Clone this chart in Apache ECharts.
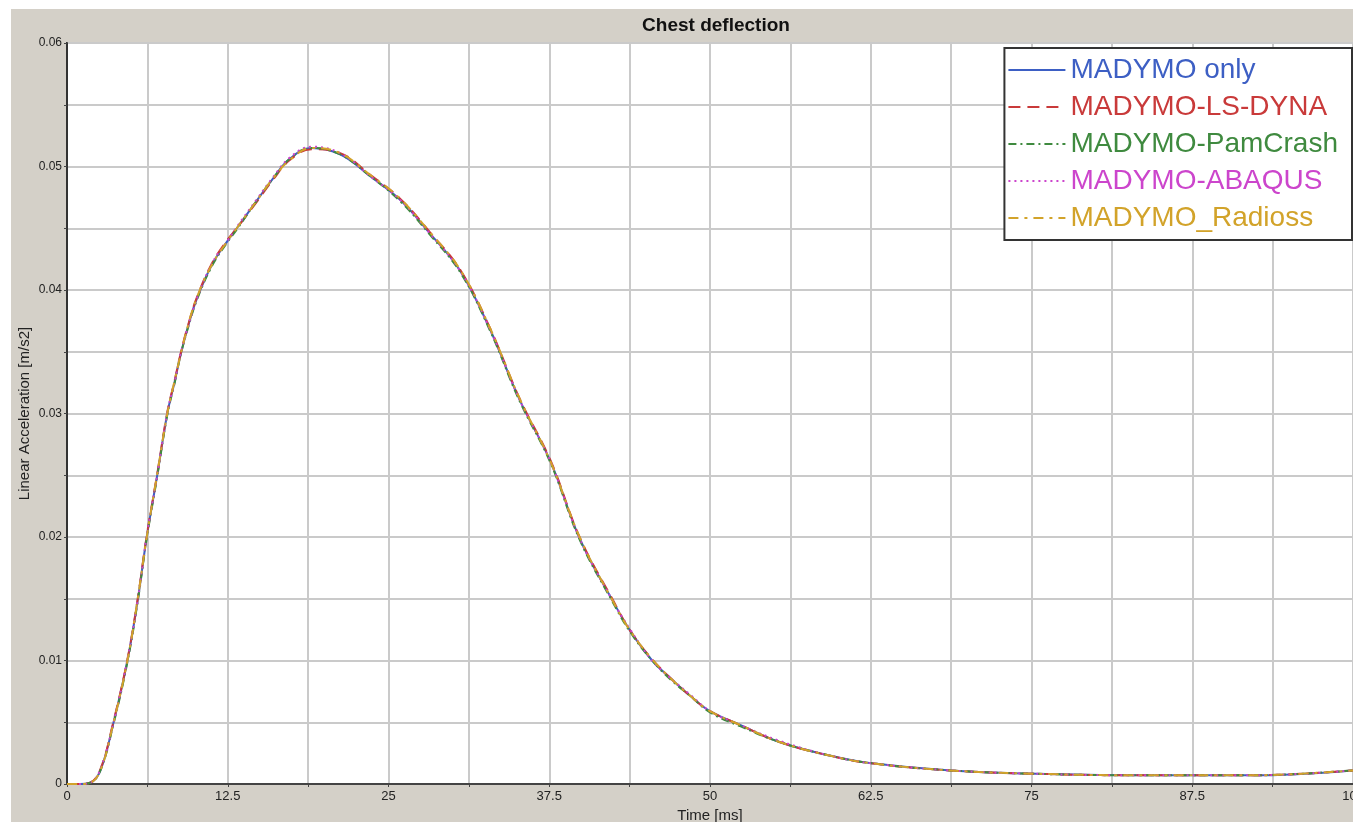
<!DOCTYPE html>
<html>
<head>
<meta charset="utf-8">
<title>Chest deflection</title>
<script src="https://cdn.jsdelivr.net/npm/echarts@6/dist/echarts.min.js"></script>
<style>
 html, body { margin: 0; padding: 0; background: #fff; overflow: hidden; }
 #chart { position: absolute; left: 11px; top: 9px; width: 1342px; height: 813px; background: #d4d0c8; }
</style>
</head>
<body>
<div id="chart"></div>
<script>
// time [ms]
const time = [0, 1, 1.8, 2.6, 3.6, 4.7, 5.5, 6.2, 7.0, 7.8, 8.4, 8.8, 9.4, 10.1, 11.3, 12.5, 13.2, 14.8, 16.0, 17.3, 19.0, 21.2, 23.6, 25.9, 28.2, 30.6, 32.9, 35.2, 37.6, 39.9, 42.4, 43.8, 45.5, 47.0, 48.5, 50.0, 52.3, 55.4, 59.3, 62.4, 68.7, 76.4, 84.2, 92.0, 100];

// deflection per coupling
const madymoOnly = [0, 0, 0.0001, 0.0011, 0.0049, 0.0100, 0.0149, 0.0200, 0.0249, 0.0300, 0.0327, 0.0346, 0.0370, 0.0393, 0.0421, 0.0440, 0.0450, 0.0473, 0.0490, 0.0506, 0.0515, 0.0510, 0.0492, 0.0473, 0.0446, 0.0415, 0.0368, 0.0311, 0.0261, 0.0198, 0.0149, 0.0124, 0.0100, 0.0085, 0.0071, 0.0059, 0.0048, 0.0034, 0.0023, 0.0017, 0.0011, 0.0008, 0.0007, 0.0007, 0.0011];
const lsDyna =     [0, 0, 0.0001, 0.0012, 0.0050, 0.0101, 0.0150, 0.0201, 0.0250, 0.0301, 0.0328, 0.0347, 0.0371, 0.0394, 0.0422, 0.0441, 0.0450, 0.0472, 0.0489, 0.0505, 0.0514, 0.0511, 0.0493, 0.0474, 0.0447, 0.0416, 0.0369, 0.0312, 0.0262, 0.0199, 0.0150, 0.0124, 0.0101, 0.0085, 0.0071, 0.0059, 0.0048, 0.0034, 0.0023, 0.0017, 0.0011, 0.0008, 0.0007, 0.0007, 0.0011];
const pamCrash =   [0, 0, 0.0001, 0.0011, 0.0048, 0.0099, 0.0148, 0.0199, 0.0248, 0.0299, 0.0326, 0.0346, 0.0369, 0.0392, 0.0420, 0.0439, 0.0449, 0.0473, 0.0490, 0.0506, 0.0515, 0.0510, 0.0492, 0.0472, 0.0445, 0.0414, 0.0367, 0.0310, 0.0260, 0.0197, 0.0148, 0.0123, 0.0100, 0.0084, 0.0071, 0.0058, 0.0047, 0.0034, 0.0023, 0.0017, 0.0011, 0.0008, 0.0007, 0.0007, 0.0011];
const abaqus =     [0, 0, 0.0001, 0.0012, 0.0049, 0.0101, 0.0149, 0.0201, 0.0249, 0.0301, 0.0327, 0.0347, 0.0370, 0.0393, 0.0422, 0.0440, 0.0451, 0.0474, 0.0491, 0.0507, 0.0516, 0.0511, 0.0492, 0.0473, 0.0446, 0.0415, 0.0368, 0.0311, 0.0261, 0.0198, 0.0149, 0.0125, 0.0100, 0.0085, 0.0072, 0.0059, 0.0048, 0.0035, 0.0023, 0.0017, 0.0011, 0.0008, 0.0007, 0.0007, 0.0011];
const radioss =    [0, 0, 0.0001, 0.0011, 0.0049, 0.0100, 0.0150, 0.0200, 0.0250, 0.0300, 0.0328, 0.0346, 0.0371, 0.0394, 0.0421, 0.0440, 0.0450, 0.0473, 0.0490, 0.0505, 0.0515, 0.0511, 0.0493, 0.0474, 0.0447, 0.0416, 0.0369, 0.0312, 0.0261, 0.0199, 0.0149, 0.0124, 0.0101, 0.0085, 0.0071, 0.0059, 0.0048, 0.0034, 0.0023, 0.0017, 0.0011, 0.0008, 0.0007, 0.0007, 0.0011];

const names = ['MADYMO only', 'MADYMO-LS-DYNA', 'MADYMO-PamCrash', 'MADYMO-ABAQUS', 'MADYMO_Radioss'];
const values = [madymoOnly, lsDyna, pamCrash, abaqus, radioss];
const colors = ['#3d5fc4', '#c93a3a', '#3f8a3f', '#cc45cc', '#d2a32a'];
const dashes = ['solid', [12, 7], [8, 4, 2, 4], [2, 4], [10, 6, 3, 6]];

var chart = echarts.init(document.getElementById('chart'));

var series = names.map(function (n, k) {
  return {
    name: n,
    type: 'line',
    symbol: 'none',
    smooth: 0.4,
    data: time.map(function (t, j) { return [t, values[k][j]]; }),
    lineStyle: { color: colors[k], width: 2, type: dashes[k] },
    itemStyle: { color: colors[k] }
  };
});

var option = {
  animation: false,
  backgroundColor: '#d4d0c8',
  title: {
    text: 'Chest deflection',
    left: 700,
    top: 2,
    textAlign: 'center',
    textStyle: { fontFamily: 'Arial', fontSize: 19, fontWeight: 'bold', color: '#111' }
  },
  legend: {
    orient: 'vertical',
    right: 1,
    top: 39,
    padding: [8, 14, 8, 3],
    itemWidth: 57,
    itemHeight: 14,
    itemGap: 9,
    backgroundColor: '#fff',
    borderColor: '#333',
    borderWidth: 2,
    borderRadius: 0,
    itemStyle: { opacity: 0 },
    data: names.map(function (n, k) {
      return { name: n, textStyle: { color: colors[k] } };
    }),
    textStyle: { fontFamily: 'Arial', fontSize: 28 }
  },
  grid: {
    left: 56,
    top: 34,
    right: 0,
    bottom: 38,
    containLabel: false,
    outerBoundsMode: 'none',
    show: true,
    backgroundColor: '#fff',
    borderColor: '#333',
    borderWidth: 2
  },
  xAxis: {
    type: 'value',
    min: 0,
    max: 100,
    interval: 6.25,
    name: 'Time [ms]',
    nameLocation: 'middle',
    nameGap: 22,
    nameTextStyle: { fontFamily: 'Arial', fontSize: 15, color: '#222' },
    axisLine: { lineStyle: { color: '#444', width: 2 } },
    axisTick: { show: true, length: 3, lineStyle: { color: '#444' } },
    axisLabel: {
      fontFamily: 'Arial', fontSize: 13, color: '#222', margin: 6,
      formatter: function (v) { return (Math.round(v * 100) % 1250 === 0) ? String(v) : ''; }
    },
    splitLine: { lineStyle: { color: '#cacaca', width: 2 } }
  },
  yAxis: {
    type: 'value',
    min: 0,
    max: 0.06,
    interval: 0.005,
    name: 'Linear Acceleration [m/s2]',
    nameLocation: 'middle',
    nameGap: 35,
    nameMoveOverlap: false,
    nameTextStyle: { fontFamily: 'Arial', fontSize: 15, color: '#222' },
    axisLine: { show: true, lineStyle: { color: '#333', width: 2 } },
    axisTick: { show: true, length: 3, lineStyle: { color: '#444' } },
    axisLabel: {
      fontFamily: 'Arial', fontSize: 12, color: '#222', margin: 5,
      formatter: function (v) {
        var m = Math.round(v * 1000);
        return (m % 10 === 0) ? String(m / 1000) : '';
      }
    },
    splitLine: { lineStyle: { color: '#cacaca', width: 2 } }
  },
  series: series
};

chart.setOption(option);
</script>
</body>
</html>
